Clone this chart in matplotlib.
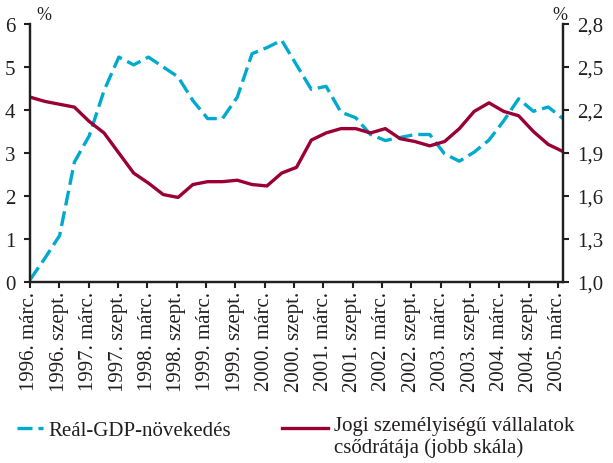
import matplotlib
matplotlib.use("Agg")
import matplotlib.pyplot as plt
from matplotlib.lines import Line2D
import numpy as np

# Quarterly data 1996 Q1 .. 2005 Q1
gdp = [0.05, 0.55, 1.08, 2.79, 3.40, 4.45, 5.23, 5.05, 5.23, 5.00,
       4.77, 4.22, 3.80, 3.80, 4.30, 5.31, 5.45, 5.62, 5.05, 4.48,
       4.55, 3.95, 3.82, 3.43, 3.29, 3.36, 3.43, 3.43, 2.98, 2.81,
       3.02, 3.30, 3.75, 4.26, 3.97, 4.07, 3.80]
bankruptcy = [2.29, 2.26, 2.24, 2.22, 2.12, 2.04, 1.90, 1.76, 1.69, 1.61,
              1.59, 1.68, 1.70, 1.70, 1.71, 1.68, 1.67, 1.76, 1.80, 1.99,
              2.04, 2.07, 2.07, 2.04, 2.07, 2.00, 1.98, 1.95, 1.98, 2.07,
              2.19, 2.25, 2.19, 2.16, 2.05, 1.96, 1.91]
tick_labels = ["1996. márc.", "1996. szept.", "1997. márc.", "1997. szept.",
               "1998. márc.", "1998. szept.", "1999. márc.", "1999. szept.",
               "2000. márc.", "2000. szept.", "2001. márc.", "2001. szept.",
               "2002. márc.", "2002. szept.", "2003. márc.", "2003. szept.",
               "2004. márc.", "2004. szept.", "2005. márc."]
left_ticks = [0, 1, 2, 3, 4, 5, 6]
right_ticks = [1.0, 1.3, 1.6, 1.9, 2.2, 2.5, 2.8]
legend_gdp = "Reál-GDP-növekedés"
legend_bank = "Jogi személyiségű vállalatok\ncsődrátája (jobb skála)"

plt.rcParams['font.family'] = ['Liberation Serif', 'DejaVu Serif']
CYAN = '#00A9CE'
RED = '#9A0036'
DARK = '#231f20'
FS = 15
DASH = (0, (4.5, 1.8))

W, H = 613, 464
fig = plt.figure(figsize=(W / 100, H / 100), dpi=100)
ax = fig.add_axes([30 / W, 1 - 283 / H, (563 - 30) / W, (283 - 25) / H])
ax2 = ax.twinx()

x = np.arange(len(gdp))
ax.plot(x, gdp, color=CYAN, lw=2.4, linestyle=DASH, dash_capstyle='butt', zorder=3)
ax2.plot(x, bankruptcy, color=RED, lw=2.4, zorder=2)

n = len(gdp) - 1
ax.set_xlim(0, n)
ax.set_ylim(0, 6)
ax2.set_ylim(1.0, 2.8)
ax.set_yticks(left_ticks)
ax.set_yticklabels([str(t) for t in left_ticks])
ax2.set_yticks(right_ticks)
ax2.set_yticklabels([f"{t:.1f}".replace('.', ',') for t in right_ticks])
# category ticks end slightly before the last data point (as in the reference)
tick_pos = np.linspace(0, n * (528 / 533), len(tick_labels))
ax.set_xticks(tick_pos)
ax.set_xticklabels(tick_labels, rotation=90, va='top', ha='center')

for a in (ax, ax2):
    a.spines['top'].set_visible(False)
    for s in ('left', 'right', 'bottom'):
        a.spines[s].set_linewidth(1.6)
        a.spines[s].set_color(DARK)
    a.tick_params(axis='both', direction='out', length=4.5, width=1.5, colors=DARK,
                  labelsize=FS, labelcolor=DARK, pad=6)
ax.tick_params(axis='x', pad=2)

fig.text(36 / W, 1 - 15 / H, "%", fontsize=13, color=DARK, ha='left', va='center')
fig.text(567 / W, 1 - 15 / H, "%", fontsize=13, color=DARK, ha='right', va='center')

# Legend (drawn manually in figure coordinates)
fig.add_artist(Line2D([17 / W, 43 / W], [1 - 429 / H, 1 - 429 / H], color=CYAN, lw=2.4,
                      linestyle=DASH, dash_capstyle='butt', transform=fig.transFigure))
fig.text(48 / W, 1 - 431.5 / H, legend_gdp, fontsize=FS, color=DARK, ha='left', va='center')
fig.add_artist(Line2D([282 / W, 328 / W], [1 - 428.5 / H, 1 - 428.5 / H], color=RED, lw=2.4,
                      transform=fig.transFigure))
fig.text(334 / W, 1 - 417 / H, legend_bank, fontsize=FS, color=DARK, ha='left', va='top',
         linespacing=1.12)

fig.savefig("out.png", dpi=100)
